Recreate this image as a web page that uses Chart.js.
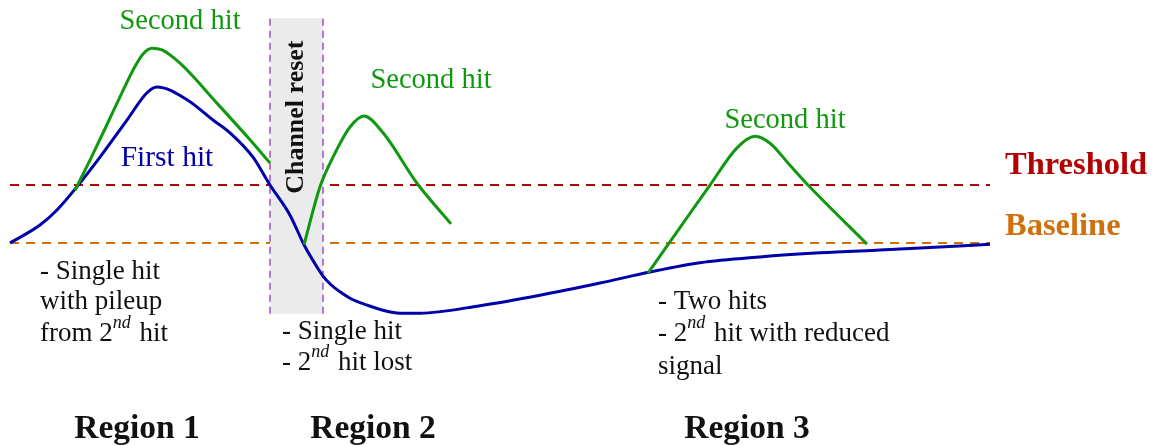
<!DOCTYPE html>
<html>
<head>
<meta charset="utf-8">
<script src="https://cdn.jsdelivr.net/npm/chart.js@4"></script>
<style>
  html, body { margin: 0; padding: 0; background: #fff; }
  #wrap { width: 1157px; height: 446px; }
</style>
</head>
<body>
<div id="wrap"><canvas id="c" width="1157" height="446"></canvas></div>
<script>
// time (arbitrary units) and amplitude (baseline = 0, threshold = 10)
const BASELINE = 0
const THRESHOLD = 10
const T_START = 0
const T_END = 98

const blueT = [0, 3, 4.7, 6.7, 9, 11.7, 13.7, 14.7, 17.7, 20.3, 22, 24.3, 26, 28, 29.4, 30.4, 31.3, 32.1, 33, 34.2, 35.7, 37.3, 39, 41, 47, 53, 59, 64, 69, 75, 81, 87, 93, 98]
const blueA = [0, 3.1, 5.7, 9.7, 14.8, 21.2, 25.9, 26.9, 24.7, 21.2, 19.0, 14.8, 10, 4.8, -0.3, -3.3, -5.7, -7.2, -8.4, -9.7, -10.7, -11.6, -12.1, -12.1, -10.8, -9.0, -6.9, -5.0, -3.4, -2.4, -1.7, -1.2, -0.7, -0.2]

const green1T = [6.5, 8, 9.5, 11, 12.3, 13.3, 14.2, 15.2, 17, 20.7, 24, 26]
const green1A = [9.1, 14.3, 19.7, 25.2, 29.8, 32.6, 33.6, 33.3, 31.0, 24.1, 17.8, 13.8]

const green2T = [29.4, 31, 32.3, 34, 35.4, 37.3, 40.7, 44.1]
const green2A = [-0.3, 9.7, 14.8, 20, 21.9, 19.0, 10.3, 3.3]

const green3T = [63.8, 70, 72.7, 74.5, 76, 78, 79.8, 85.7]
const green3A = [-5.2, 10, 16.4, 18.4, 17.2, 13.4, 10, -0.2]

// channel reset window
const resetT = [26, 31.3]
const resetA = [-12.2, 38.8]

const pts = (ts, as) => ts.map((t, i) => ({ x: t, y: as[i] }))

const GREEN = "#109910"
const BLUE = "#0000aa"
const RED = "#b30000"
const ORANGE = "#d0700c"
const PURPLE = "#a858c8"
const SERIF = "'Liberation Serif', 'DejaVu Serif', serif"

// text notes, placed in data coordinates
const notes = [
  { x: 17.0, y: 38.2, parts: [{ t: "Second hit" }], color: GREEN, size: 28.5, align: "center" },
  { x: 42.1, y: 28.1, parts: [{ t: "Second hit" }], color: GREEN, size: 28.5, align: "center" },
  { x: 77.5, y: 21.2, parts: [{ t: "Second hit" }], color: GREEN, size: 28.5, align: "center" },
  { x: 15.7, y: 14.6, parts: [{ t: "First hit" }], color: BLUE, size: 29.5, align: "center" },
  { x: 99.5, y: 13.4, parts: [{ t: "Threshold" }], color: RED, size: 32.5, bold: true, align: "left" },
  { x: 99.5, y: 2.9, parts: [{ t: "Baseline" }], color: ORANGE, size: 32.5, bold: true, align: "left" },

  { x: 3, y: -5.0, parts: [{ t: "- Single hit" }] },
  { x: 3, y: -10.1, parts: [{ t: "with pileup" }] },
  { x: 3, y: -15.6, parts: [{ t: "from 2" }, { t: "nd", sup: true }, { t: " hit" }] },

  { x: 27.2, y: -15.4, parts: [{ t: "- Single hit" }] },
  { x: 27.2, y: -20.6, parts: [{ t: "- 2" }, { t: "nd", sup: true }, { t: " hit lost" }] },

  { x: 64.8, y: -10.1, parts: [{ t: "- Two hits" }] },
  { x: 64.8, y: -15.6, parts: [{ t: "- 2" }, { t: "nd", sup: true }, { t: " hit with reduced" }] },
  { x: 64.8, y: -21.3, parts: [{ t: "signal" }] },

  { x: 12.7, y: -32.2, parts: [{ t: "Region 1" }], size: 33.5, bold: true, align: "center" },
  { x: 36.3, y: -32.2, parts: [{ t: "Region 2" }], size: 33.5, bold: true, align: "center" },
  { x: 73.7, y: -32.2, parts: [{ t: "Region 3" }], size: 33.5, bold: true, align: "center" }
]

function fontOf(n, p) {
  const size = n.size || 27
  if (p.sup) return "italic " + Math.round(size * 0.68) + "px " + SERIF
  return (n.bold ? "bold " : "") + size + "px " + SERIF
}

function drawNote(ctx, n, x, y) {
  const size = n.size || 27
  let total = 0
  n.parts.forEach(p => { ctx.font = fontOf(n, p); total += ctx.measureText(p.t).width })
  let cx = n.align === "center" ? x - total / 2 : x
  ctx.fillStyle = n.color || "#111"
  ctx.textBaseline = "middle"
  ctx.textAlign = "left"
  n.parts.forEach(p => {
    ctx.font = fontOf(n, p)
    ctx.fillText(p.t, cx, p.sup ? y - size * 0.38 : y)
    cx += ctx.measureText(p.t).width + (p.sup ? 2 : 0)
  })
}

const annotations = {
  id: "annotations",
  beforeDatasetDraw(chart, args) {
    if (chart.data.datasets[args.index].label !== "reset right") return
    const { ctx, scales: { x, y } } = chart
    ctx.save()
    ctx.fillStyle = "#ebebeb"
    const x0 = x.getPixelForValue(resetT[0]), x1 = x.getPixelForValue(resetT[1])
    const y0 = y.getPixelForValue(resetA[1]), y1 = y.getPixelForValue(resetA[0])
    ctx.fillRect(x0, y0, x1 - x0, y1 - y0)
    ctx.restore()
  },
  afterDatasetsDraw(chart) {
    const { ctx, scales: { x, y } } = chart
    ctx.save()
    notes.forEach(n => drawNote(ctx, n, x.getPixelForValue(n.x), y.getPixelForValue(n.y)))
    // rotated label inside the reset window
    ctx.translate(x.getPixelForValue((resetT[0] + resetT[1]) / 2), y.getPixelForValue(21.7))
    ctx.rotate(-Math.PI / 2)
    ctx.font = "bold 26px " + SERIF
    ctx.fillStyle = "#111"
    ctx.textAlign = "center"
    ctx.textBaseline = "middle"
    ctx.fillText("Channel reset", 0, 0)
    ctx.restore()
  }
}

const curve = (label, data, color) => ({
  label, data, borderColor: color, borderWidth: 3, pointRadius: 0,
  cubicInterpolationMode: "monotone", fill: false
})
const dashed = (label, data, color, dash, width) => ({
  label, data, borderColor: color, borderWidth: width, borderDash: dash,
  pointRadius: 0, tension: 0, fill: false
})

new Chart(document.getElementById("c"), {
  type: "line",
  data: {
    // earlier datasets are painted on top
    datasets: [
      curve("green 3", pts(green3T, green3A), GREEN),
      curve("green 2", pts(green2T, green2A), GREEN),
      curve("green 1", pts(green1T, green1A), GREEN),
      curve("signal", pts(blueT, blueA), BLUE),
      dashed("reset left", pts([resetT[0], resetT[0]], resetA), PURPLE, [7, 5], 1.6),
      dashed("reset right", pts([resetT[1], resetT[1]], resetA), PURPLE, [7, 5], 1.6),
      dashed("threshold", pts([T_START, T_END], [THRESHOLD, THRESHOLD]), RED, [9, 7], 2),
      dashed("baseline", pts([T_START, T_END], [BASELINE, BASELINE]), ORANGE, [9, 7], 2)
    ]
  },
  options: {
    responsive: false,
    animation: false,
    layout: { padding: 0 },
    plugins: { legend: { display: false }, tooltip: { enabled: false } },
    scales: {
      x: { type: "linear", min: -1, max: 114.7, display: false },
      y: { type: "linear", min: -35.0, max: 41.9, display: false }
    },
    datasets: { line: { clip: false } }
  },
  plugins: [annotations]
})
</script>
</body>
</html>
